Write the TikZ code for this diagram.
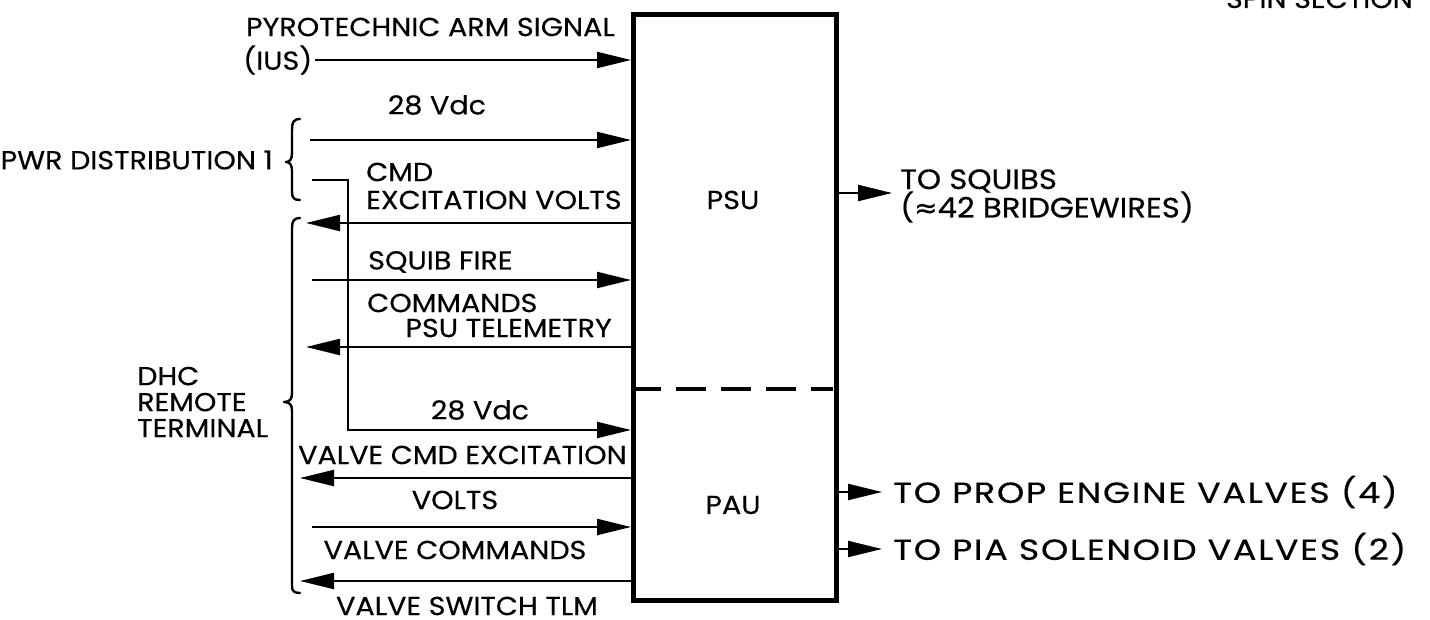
\documentclass[tikz,border=0pt]{standalone}
\usepackage{fontspec}
\setmainfont[FakeStretch=1.1,FakeBold=0.4]{Poppins}
\newfontfamily\widefont[FakeStretch=1.2,LetterSpace=6,FakeBold=0.4]{Poppins}
\newfontfamily\symf[FakeBold=0.4]{DejaVu Sans}
\usetikzlibrary{arrows.meta,calc}
\tikzset{
  lbl/.style={inner sep=0pt, font=\fontsize{26}{26}\selectfont},
  slbl/.style={inner sep=0pt, font=\fontsize{28}{27}\selectfont},
  wlbl/.style={inner sep=0pt, font=\widefont\fontsize{29}{27}\selectfont},
  unit/.style={draw, line width=5pt, inner sep=0pt},
  sig/.style={line width=2.2pt, -{Triangle[length=34pt,width=16pt]}},
  brc/.style={line width=2.4pt, line cap=round, line join=round},
  splitline/.style={line width=4pt, dash pattern=on 30pt off 15pt}
}
\begin{document}
\begin{tikzpicture}[x=1pt,y=-1pt]
\useasboundingbox (0,0) rectangle (1430,620);
% main unit box
\node[unit, anchor=north west, minimum width=203pt, minimum height=586pt] (box) at (631,12) {};
\draw[splitline] (box.west |- 0,389) -- ([xshift=-6pt]box.east |- 0,389);
\node[lbl] (psu) at (733,200) {PSU};
\node[lbl] (pau) at (733,505) {PAU};
% free-end coordinates
\coordinate (pyroS) at (315,60);
\coordinate (v1S) at (310,140);
\coordinate (cmdS) at (312,180);
\coordinate (cmdK) at (348,180);
\coordinate (cmdB) at (348,430);
\coordinate (exE) at (306,223);
\coordinate (sqS) at (312,280);
\coordinate (tmE) at (306,347);
\coordinate (vxE) at (300,478);
\coordinate (vcS) at (312,527);
\coordinate (vtE) at (300,581);
\coordinate (sqE) at (892,193);
\coordinate (peE) at (882,492);
\coordinate (piE) at (882,549);
% left signals
\draw[sig] (pyroS) -- (box.west |- pyroS);
\draw[sig] (v1S) -- (box.west |- v1S);
\draw[sig] (cmdS) -- (cmdK) -- (cmdB) -- (box.west |- cmdB);
\draw[sig] (box.west |- exE) -- (exE);
\draw[sig] (sqS) -- (box.west |- sqS);
\draw[sig] (box.west |- tmE) -- (tmE);
\draw[sig] (box.west |- vxE) -- (vxE);
\draw[sig] (vcS) -- (box.west |- vcS);
\draw[sig] (box.west |- vtE) -- (vtE);
% right outputs
\draw[sig] (box.east |- sqE) -- (sqE);
\draw[sig] (box.east |- peE) -- (peE);
\draw[sig] (box.east |- piE) -- (piE);
% labels
\node[lbl, anchor=east] (pyro) at (615,27) {PYROTECHNIC ARM SIGNAL};
\node[lbl, anchor=west] (ius) at (243,60) {(IUS)};
\node[lbl] (v28a) at (437,105) {28 Vdc};
\node[lbl, anchor=east] (pwr) at (273,160) {PWR DISTRIBUTION 1};
\node[lbl, anchor=west] (cmd) at (366,172) {CMD};
\node[lbl, anchor=west] (exv) at (366,200) {EXCITATION VOLTS};
\node[lbl, anchor=west] (sqf) at (368,262) {SQUIB FIRE};
\node[lbl, anchor=west] (sqc) at (367,303) {COMMANDS};
\node[lbl, anchor=east] (tlm) at (612,328) {PSU TELEMETRY};
\node[lbl] (v28b) at (480,410) {28 Vdc};
\node[lbl, anchor=west] (vce) at (298,455) {VALVE CMD EXCITATION};
\node[lbl] (vvo) at (455,500) {VOLTS};
\node[lbl] (vcm) at (455,550) {VALVE COMMANDS};
\node[lbl] (vst) at (467,606) {VALVE SWITCH TLM};
\node[lbl, anchor=west, align=left] (dhc) at (137,402) {DHC\\REMOTE\\TERMINAL};
\node[slbl, anchor=west] (tsq) at (900,181) {TO SQUIBS};
\node[slbl, anchor=west] (brw) at (900,207) {({\symf ≈}42 BRIDGEWIRES)};
\node[wlbl, anchor=west] (tpe) at (893,492) {TO PROP ENGINE VALVES (4)};
\node[wlbl, anchor=west] (tpi) at (893,549) {TO PIA SOLENOID VALVES (2)};
\node[lbl, anchor=base east] (spin) at (1413,8) {SPIN SECTION};
% braces
\draw[brc] (300,119) .. controls (293,119) and (292,123) .. (292,130)
  -- (292,153) .. controls (292,159) and (290,162) .. (286,162)
  .. controls (290,162) and (292,165) .. (292,171)
  -- (292,192) .. controls (292,198) and (294,200) .. (300,200);
\draw[brc] (300,218) .. controls (294,218) and (292,221) .. (292,228)
  -- (292,393) .. controls (292,399) and (290,402) .. (284,402)
  .. controls (290,402) and (292,405) .. (292,411)
  -- (292,586) .. controls (292,591) and (294,593) .. (300,593);
\end{tikzpicture}
\end{document}
